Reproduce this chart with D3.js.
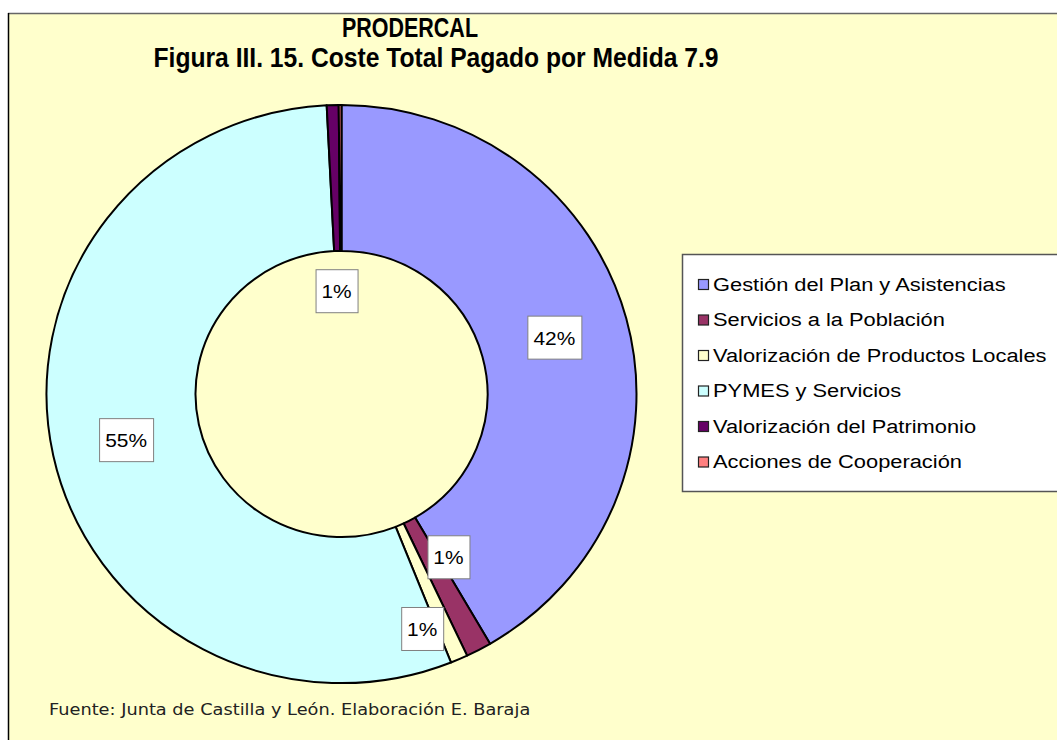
<!DOCTYPE html>
<html lang="es">
<head>
    <meta charset="UTF-8">
    <title>PRODERCAL - Figura III. 15</title>
    <style>
        body{
            margin: 0;
            background: #fff;
        }
        text{
            font-family: "Liberation Sans", Arial, sans-serif;
        }
        text.fuente{
            font-family: "DejaVu Sans", Verdana, sans-serif;
        }
    </style>
</head>
<body>
    <div id="chart"></div>
    <script src="https://cdn.jsdelivr.net/npm/d3@7"></script>
    <script>
        // datos (porcentaje del coste total pagado)
        var categories = ["Gestión del Plan y Asistencias", "Servicios a la Población",
            "Valorización de Productos Locales", "PYMES y Servicios",
            "Valorización del Patrimonio", "Acciones de Cooperación"];
        var values = [41.6, 1.4, 0.95, 55.25, 0.65, 0.15];
        var colors = ["#9999FF", "#993366", "#FFFFCC", "#CCFFFF", "#660066", "#FF8080"];
        var titleLines = ["PRODERCAL", "Figura III. 15. Coste Total Pagado por Medida 7.9"];
        var source = "Fuente: Junta de Castilla y León. Elaboración E. Baraja";

        // etiquetas pequeñas movidas a mano (angulo en grados, radio en px)
        var labelMoved = {
            1: {a: 147.3, r: 198},
            2: {a: 161.4, r: 253},
            4: {a: 357.3, r: 105}
        };

        var W = 1057, H = 740;
        var cx = 341.5, cy = 394, rOut = 295, rIn = 146, squash = 0.98;

        var svg = d3.select("#chart").append("svg")
            .attr("width", W)
            .attr("height", H);

        // area del grafico
        svg.append("rect")
            .attr("x", 8).attr("y", 13)
            .attr("width", W).attr("height", H)
            .attr("fill", "#FFFFCC");
        svg.append("line")
            .attr("x1", 8).attr("y1", 13.5).attr("x2", W).attr("y2", 13.5)
            .attr("stroke", "#666").attr("stroke-width", 1.5);
        svg.append("line")
            .attr("x1", 8.5).attr("y1", 13).attr("x2", 8.5).attr("y2", H)
            .attr("stroke", "#000").attr("stroke-width", 1.5);

        // titulo
        var tpos = [[410, 37, 136], [436, 67, 565]];
        svg.append("g").selectAll("text")
            .data(titleLines)
            .enter()
            .append("text")
            .attr("text-anchor", "middle")
            .attr("font-weight", "bold")
            .attr("font-size", 22)
            .attr("textLength", function(d, i){ return tpos[i][2]; })
            .attr("lengthAdjust", "spacingAndGlyphs")
            .attr("transform", function(d, i){
                return "translate(" + tpos[i][0] + "," + tpos[i][1] + ") scale(1,1.25)";
            })
            .text(function(d){ return d; });

        var pie = d3.pie().sort(null).value(function(d){ return d; })
            .startAngle(0).endAngle(2 * Math.PI);
        var arcs = pie(values);
        var arc = d3.arc().innerRadius(rIn).outerRadius(rOut);

        var g = svg.append("g")
            .attr("transform", "translate(" + cx + "," + cy + ") scale(1," + squash + ")");

        g.selectAll("path")
            .data(arcs)
            .enter()
            .append("path")
            .attr("d", arc)
            .attr("fill", function(d, i){ return colors[i]; })
            .attr("stroke", "#000")
            .attr("stroke-width", 2)
            .attr("stroke-linejoin", "round")
            .attr("vector-effect", "non-scaling-stroke");

        // etiquetas de porcentaje
        var total = d3.sum(values);
        var labels = arcs.filter(function(d){ return Math.round(d.value / total * 100) > 0; });
        var lab = svg.append("g").selectAll("g")
            .data(labels)
            .enter()
            .append("g")
            .attr("transform", function(d){
                var p;
                var m = labelMoved[d.index];
                if(m){
                    var a = m.a * Math.PI / 180;
                    p = [m.r * Math.sin(a), -m.r * Math.cos(a)];
                } else {
                    p = arc.centroid(d);
                }
                return "translate(" + (cx + p[0]) + "," + (cy + p[1] * squash) + ")";
            });

        lab.append("text")
            .attr("text-anchor", "middle")
            .attr("font-size", 19)
            .attr("transform", "translate(0,7) scale(1.1,1)")
            .text(function(d){ return Math.round(d.value / total * 100) + "%"; })
            .each(function(){
                var b = this.getBBox();
                var w = Math.round(b.width * 1.1 + 12);
                d3.select(this.parentNode).insert("rect", "text")
                    .attr("x", -Math.round(w / 2) + 0.5)
                    .attr("y", -21.5)
                    .attr("width", w)
                    .attr("height", 43)
                    .attr("fill", "#fff")
                    .attr("stroke", "#808080")
                    .attr("stroke-width", 1);
            });

        // leyenda
        svg.append("rect")
            .attr("x", 682.5).attr("y", 254.5)
            .attr("width", 420).attr("height", 237)
            .attr("fill", "#fff")
            .attr("stroke", "#555")
            .attr("stroke-width", 1.5);

        var leg = svg.append("g").selectAll("g")
            .data(categories)
            .enter()
            .append("g")
            .attr("transform", function(d, i){
                return "translate(698," + (284 + i * 35.5) + ")";
            });
        leg.append("rect")
            .attr("x", 0.5).attr("y", -4.5)
            .attr("width", 10).attr("height", 10)
            .attr("fill", function(d, i){ return colors[i]; })
            .attr("stroke", "#222")
            .attr("stroke-width", 1.2);
        leg.append("text")
            .attr("font-size", 19)
            .attr("transform", "translate(15,6.5) scale(1.15,1)")
            .text(function(d){ return d; });

        // fuente
        svg.append("text")
            .attr("class", "fuente")
            .attr("font-size", 16)
            .attr("transform", "translate(49,715) scale(1.11,1)")
            .attr("fill", "#222")
            .text(source);
    </script>
</body>
</html>
